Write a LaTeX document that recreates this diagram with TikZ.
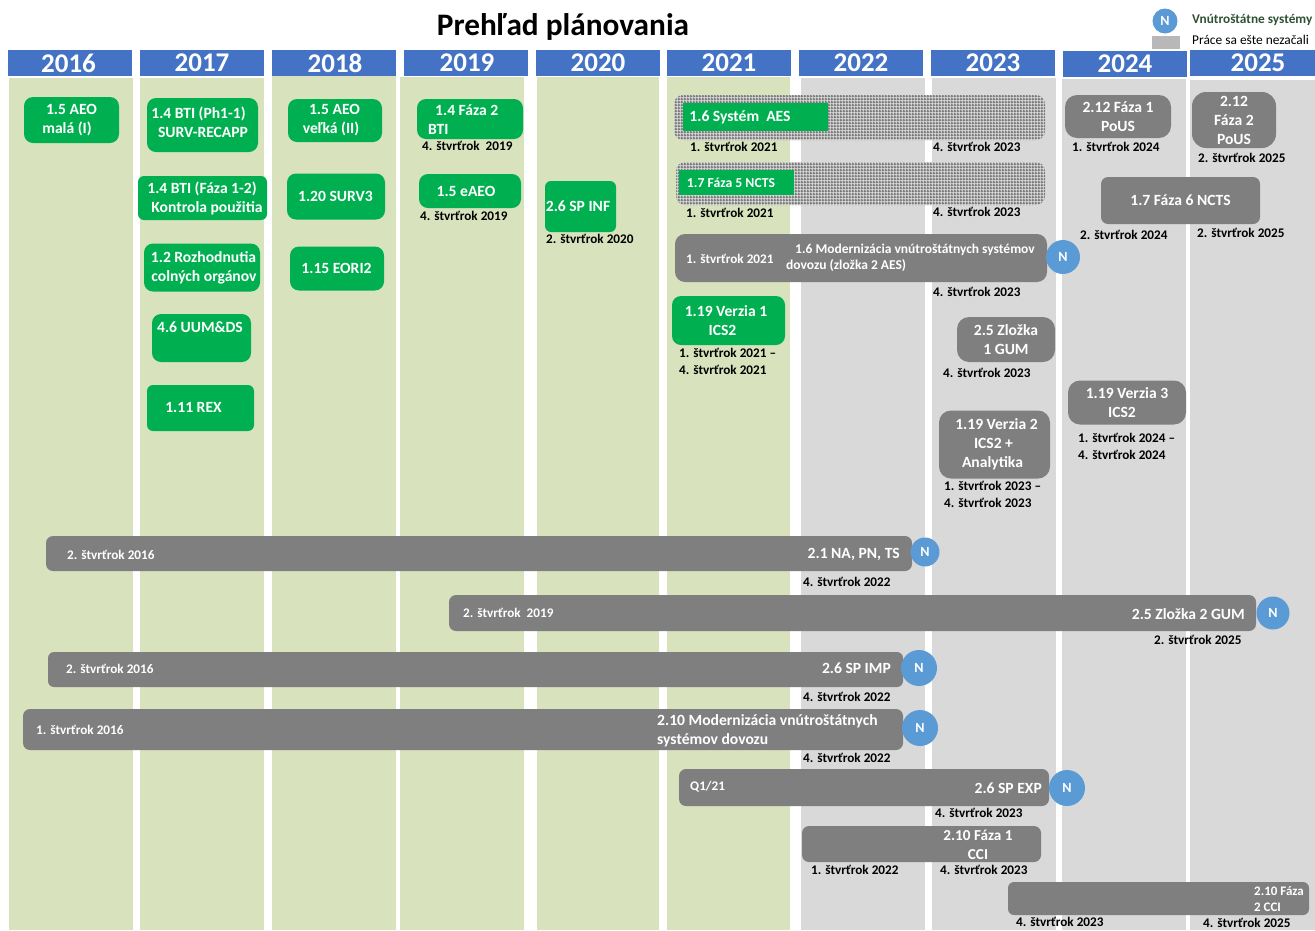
\documentclass[tikz,border=0pt]{standalone}
\usepackage{fontspec}
\setmainfont{Carlito}
\usetikzlibrary{patterns}
\definecolor{headblue}{HTML}{4472C4}
\definecolor{colgreen}{HTML}{D8E3BE}
\definecolor{colgray}{HTML}{D9D9D9}
\definecolor{boxgreen}{HTML}{00B050}
\definecolor{boxgray}{HTML}{7F7F7F}
\definecolor{badgeblue}{HTML}{5B9BD5}
\definecolor{legendgreen}{HTML}{2F5233}
\pgfdeclarepatternformonly{finemesh}{\pgfqpoint{0pt}{0pt}}{\pgfqpoint{2.7pt}{2.7pt}}{\pgfqpoint{2.7pt}{2.7pt}}{
	\pgfpathrectangle{\pgfqpoint{0pt}{0pt}}{\pgfqpoint{1.6pt}{2.7pt}}
	\pgfpathrectangle{\pgfqpoint{1.6pt}{0pt}}{\pgfqpoint{1.1pt}{1.6pt}}
	\pgfusepath{fill}
}
\tikzset{
	headbox/.style={fill=headblue, text=white, inner sep=0pt, minimum width=124, minimum height=26, font=\bfseries\fontsize{27}{28}\selectfont},
	greencol/.style={fill=colgreen, inner sep=0pt, anchor=north west, minimum width=124},
	graycol/.style={fill=colgray, inner sep=0pt, anchor=north west, minimum width=124},
	boxtext/.style={text=white, inner sep=0pt, align=center, font=\bfseries\fontsize{15.6}{19}\selectfont},
	greenbox/.style={boxtext, fill=boxgreen, rounded corners=9pt},
	graybox/.style={boxtext, fill=boxgray, rounded corners=9pt},
	hatchbar/.style={preaction={fill=colgray}, pattern=finemesh, pattern color=boxgray, rounded corners=9pt, inner sep=0pt},
	datelabel/.style={text=black, inner sep=0pt, anchor=west, font=\bfseries\fontsize{13.2}{17}\selectfont, align=left},
	bardate/.style={datelabel, text=white},
	badge/.style={circle, fill=badgeblue, text=white, inner sep=0pt, font=\bfseries\fontsize{14}{15}\selectfont}
}
\begin{document}
\begin{tikzpicture}[x=1pt,y=-1pt]
	\useasboundingbox (0,0) rectangle (1315,930);

	\node[font=\bfseries\fontsize{31.3}{33}\selectfont, inner sep=0pt] (title) at (563,26.5) {Prehľad plánovania};
	\node[badge, minimum size=25] (legendN) at (1165,21) {N};
	\node[fill=colgray!85!black, inner sep=0pt, minimum width=28, minimum height=13] (legendGray) at (1166,42.5) {};
	\node[datelabel, text=legendgreen, font=\bfseries\fontsize{13.3}{14}\selectfont] (legendNText) at (1192,20) {Vnútroštátne systémy};
	\node[datelabel, font=\fontsize{13.4}{14}\selectfont] (legendGrayText) at (1192,40) {Práce sa ešte nezačali};

	\node[headbox] (h2016) at (70,63) {\hspace*{-3pt}2016};
	\node[headbox] (h2017) at (202,63) {2017};
	\node[headbox] (h2018) at (334,63) {\hspace*{2pt}2018};
	\node[headbox] (h2019) at (466,63) {\hspace*{2pt}2019};
	\node[headbox] (h2020) at (598,63) {2020};
	\node[headbox] (h2021) at (729,63) {2021};
	\node[headbox] (h2022) at (861,63) {2022};
	\node[headbox] (h2023) at (993,63) {2023};
	\node[headbox] (h2024) at (1125,64) {2024};
	\node[headbox, minimum width=125] (h2025) at (1252.5,63) {\hspace*{11pt}2025};

	\node[greencol, minimum height=852] (c2016) at (9,78) {};
	\node[greencol, minimum height=852] (c2017) at (140,78) {};
	\node[greencol, minimum height=854] (c2018) at (272,76) {};
	\node[greencol, minimum height=853] (c2019) at (399.5,77) {};
	\node[greencol, minimum height=853, minimum width=122] (c2020) at (537,77) {};
	\node[greencol, minimum height=853, minimum width=123] (c2021) at (667,77) {};
	\node[graycol, minimum height=852] (c2022) at (801,78) {};
	\node[graycol, minimum height=852] (c2023) at (932,78) {};
	\node[graycol, minimum height=851] (c2024) at (1062,79) {};
	\node[graycol, minimum height=850, minimum width=125] (c2025) at (1190,80) {};

	% green boxes
	\node[greenbox, minimum width=95, minimum height=46] (aeoSmall) at (71.5,120) {1.5 AEO\\\hspace*{-9pt}malá (I)};
	\node[greenbox, minimum width=111, minimum height=54] (btiRecapp) at (202.5,125) {};
	\node[boxtext] (btiRecappText) at (202.5,122.5) {\hspace*{-8pt}1.4 BTI (Ph1-1)\\\hspace*{1pt}SURV-RECAPP};
	\node[greenbox, minimum width=129, minimum height=44, rounded corners=6pt] (btiUse) at (202.5,198) {\hspace*{-1pt}1.4 BTI (Fáza 1-2)\\\hspace*{9pt}Kontrola použitia};
	\node[greenbox, minimum width=116, minimum height=48] (decisions) at (202,267.5) {\hspace*{3pt}1.2 Rozhodnutia\\\hspace*{4pt}colných orgánov};
	\node[greenbox, minimum width=99, minimum height=48] (uum) at (201.5,338) {};
	\node[boxtext] (uumText) at (200,327) {4.6 UUM\&DS};
	\node[greenbox, minimum width=107, minimum height=46, rounded corners=6pt] (rex) at (200.5,408) {};
	\node[boxtext] (rexText) at (193.5,407) {1.11 REX};
	\node[greenbox, minimum width=94, minimum height=43] (aeoLarge) at (335,120.5) {\hspace*{-1pt}1.5 AEO\\\hspace*{-8pt}veľká (II)};
	\node[greenbox, minimum width=98, minimum height=46] (surv) at (336,196.5) {\hspace*{-1pt}1.20 SURV3};
	\node[greenbox, minimum width=94, minimum height=44] (eori) at (337,268.5) {\hspace*{-1pt}1.15 EORI2};
	\node[greenbox, minimum width=106, minimum height=40] (btiTwo) at (470,119) {};
	\node[boxtext, anchor=west, align=left] (btiTwoText) at (428,119.5) {\hspace*{7pt}1.4 Fáza 2\\BTI};
	\node[greenbox, minimum width=102, minimum height=34] (eaeo) at (470,191) {\hspace*{-8pt}1.5 eAEO};
	\node[greenbox, minimum width=71, minimum height=51, rounded corners=6pt] (spInf) at (580.5,206.5) {\hspace*{-5pt}2.6 SP INF};
	\node[greenbox, minimum width=113, minimum height=49] (icsOne) at (728.5,320.5) {\hspace*{-5pt}1.19 Verzia 1\\\hspace*{-12pt}ICS2};

	% hatched bars, green part on top
	\node[hatchbar, minimum width=371, minimum height=45] (aesBar) at (859.5,117.5) {};
	\node[boxtext, fill=boxgreen, minimum width=145, minimum height=28] (aes) at (755.5,117) {\hspace*{-31pt}1.6 Systém\ \ AES};
	\node[hatchbar, minimum width=369, minimum height=43] (nctsBar) at (860.5,183.5) {};
	\node[boxtext, fill=boxgreen, minimum width=115, minimum height=25, font=\bfseries\fontsize{13.7}{15}\selectfont] (nctsFive) at (736.5,182.5) {\hspace*{-11pt}1.7 Fáza 5 NCTS};

	% gray boxes
	\node[graybox, minimum width=106, minimum height=43, rounded corners=12pt] (pousOne) at (1118,116.5) {2.12 Fáza 1\\PoUS};
	\node[graybox, minimum width=84, minimum height=56, rounded corners=14pt] (pousTwo) at (1234,120) {2.12\\Fáza 2\\PoUS};
	\node[graybox, minimum width=159, minimum height=47, rounded corners=7pt] (nctsSix) at (1180.5,200.5) {1.7 Fáza 6 NCTS};
	\node[graybox, minimum width=372, minimum height=48, rounded corners=10pt] (modernAes) at (861,258) {};
	\node[boxtext, font=\bfseries\fontsize{13.5}{16.5}\selectfont, align=left, anchor=west] (modernAesText) at (786,258) {\hspace*{9pt}1.6 Modernizácia vnútroštátnych systémov\\dovozu (zložka 2 AES)};
	\node[bardate] (modernAesFrom) at (686,259) {1. štvrťrok 2021};
	\node[graybox, minimum width=98, minimum height=45, rounded corners=12pt] (gumOne) at (1006,339.5) {2.5 Zložka\\1 GUM};
	\node[graybox, minimum width=118, minimum height=44, rounded corners=12pt] (icsThree) at (1127,402.5) {1.19 Verzia 3\\\hspace*{-10pt}ICS2};
	\node[graybox, minimum width=111, minimum height=68, rounded corners=12pt] (icsTwo) at (994.5,444.5) {\hspace*{4pt}1.19 Verzia 2\\\hspace*{-2pt}ICS2 +\\\hspace*{-4pt}Analytika};

	% long bars
	\node[graybox, minimum width=866, minimum height=35, rounded corners=7pt] (naBar) at (479,553.5) {};
	\node[bardate] (naFrom) at (67,555) {2. štvrťrok 2016};
	\node[boxtext, anchor=east] (naText) at (900,554.5) {2.1 NA, PN, TS};
	\node[graybox, minimum width=807, minimum height=36, rounded corners=7pt] (gumBar) at (852.5,613) {};
	\node[bardate] (gumFrom) at (463,613) {2. štvrťrok\ \ 2019};
	\node[boxtext, anchor=east] (gumText) at (1245,614) {2.5 Zložka 2 GUM};
	\node[graybox, minimum width=855, minimum height=35, rounded corners=6pt] (impBar) at (475.5,669.5) {};
	\node[bardate] (impFrom) at (66,669) {2. štvrťrok 2016};
	\node[boxtext, anchor=east] (impText) at (891,668) {2.6 SP IMP};
	\node[graybox, minimum width=880, minimum height=41, rounded corners=7pt] (importBar) at (463,729.5) {};
	\node[bardate] (importFrom) at (36,730) {1. štvrťrok 2016};
	\node[boxtext, anchor=west, align=left] (importText) at (657,730.5) {2.10 Modernizácia vnútroštátnych\\systémov dovozu};
	\node[graybox, minimum width=370, minimum height=37, rounded corners=7pt] (expBar) at (864,787.5) {};
	\node[bardate] (expFrom) at (690,787) {Q1/21};
	\node[boxtext, anchor=east] (expText) at (1042,788) {2.6 SP EXP};
	\node[graybox, minimum width=239, minimum height=36, rounded corners=7pt] (cciOne) at (921.5,844) {};
	\node[boxtext, font=\bfseries\fontsize{15.2}{19}\selectfont] (cciOneText) at (978,845) {2.10 Fáza 1\\CCI};
	\node[graybox, minimum width=301, minimum height=33, rounded corners=6pt] (cciTwo) at (1158.5,898.5) {};
	\node[boxtext, font=\bfseries\fontsize{13}{16}\selectfont, anchor=west, align=left] (cciTwoText) at (1254,899) {2.10 Fáza\\2 CCI};

	% N badges
	\node[badge, minimum size=34] (nModernAes) at (1063,257) {N};
	\node[badge, minimum size=29] (nNa) at (925,552) {N};
	\node[badge, minimum size=33] (nGum) at (1273,613) {N};
	\node[badge, minimum size=36] (nImp) at (919,668) {N};
	\node[badge, minimum size=36] (nImport) at (920,728) {N};
	\node[badge, minimum size=36] (nExp) at (1067,788) {N};

	% dates
	\node[datelabel] (d01) at (422,146) {4. štvrťrok\ \ 2019};
	\node[datelabel] (d02) at (420,216) {4. štvrťrok 2019};
	\node[datelabel] (d03) at (546,239) {2. štvrťrok 2020};
	\node[datelabel] (d04) at (690,147) {1. štvrťrok 2021};
	\node[datelabel] (d05) at (933,147) {4. štvrťrok 2023};
	\node[datelabel] (d06) at (686,213) {1. štvrťrok 2021};
	\node[datelabel] (d07) at (933,212) {4. štvrťrok 2023};
	\node[datelabel] (d08) at (933,292) {4. štvrťrok 2023};
	\node[datelabel] (d09) at (679,361) {1. štvrťrok 2021 –\\4. štvrťrok 2021};
	\node[datelabel] (d10) at (1072,147) {1. štvrťrok 2024};
	\node[datelabel] (d11) at (1198,158) {2. štvrťrok 2025};
	\node[datelabel] (d12) at (1080,235) {2. štvrťrok 2024};
	\node[datelabel] (d13) at (1197,233) {2. štvrťrok 2025};
	\node[datelabel] (d14) at (943,373) {4. štvrťrok 2023};
	\node[datelabel] (d15) at (1078,446) {1. štvrťrok 2024 –\\4. štvrťrok 2024};
	\node[datelabel] (d16) at (944,494) {1. štvrťrok 2023 –\\4. štvrťrok 2023};
	\node[datelabel] (d17) at (803,582) {4. štvrťrok 2022};
	\node[datelabel] (d18) at (1154,640) {2. štvrťrok 2025};
	\node[datelabel] (d19) at (803,697) {4. štvrťrok 2022};
	\node[datelabel] (d20) at (803,758) {4. štvrťrok 2022};
	\node[datelabel] (d21) at (935,813) {4. štvrťrok 2023};
	\node[datelabel] (d22) at (811,870) {1. štvrťrok 2022};
	\node[datelabel] (d23) at (940,870) {4. štvrťrok 2023};
	\node[datelabel] (d24) at (1016,922) {4. štvrťrok 2023};
	\node[datelabel] (d25) at (1203,923) {4. štvrťrok 2025};
\end{tikzpicture}
\end{document}
